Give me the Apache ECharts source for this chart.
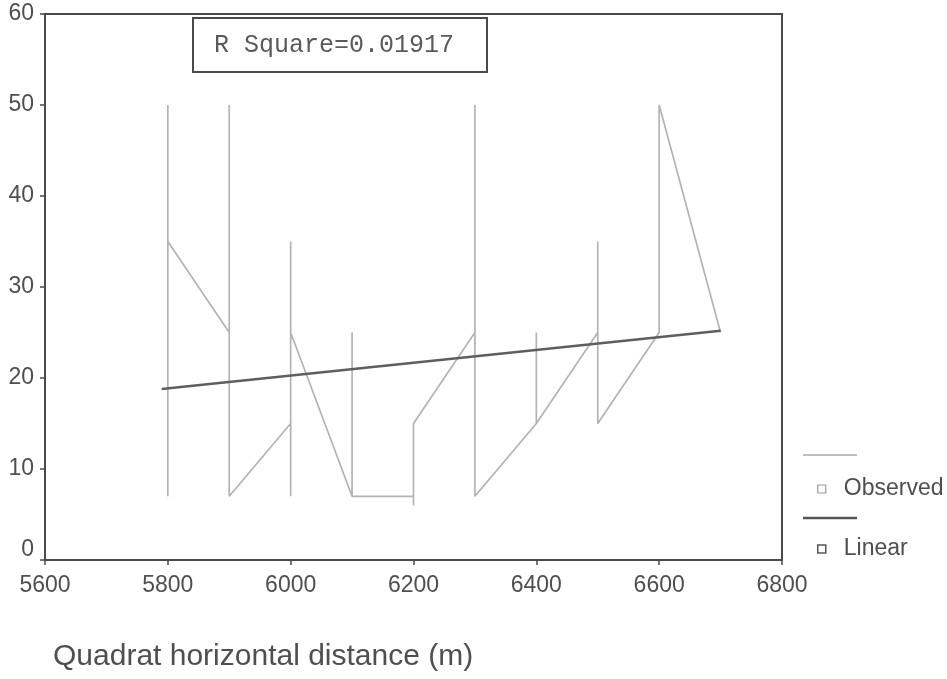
<!DOCTYPE html>
<html>
<head>
<meta charset="utf-8">
<script src="https://cdn.jsdelivr.net/npm/echarts@6/dist/echarts.min.js"></script>
<style>
html,body{margin:0;padding:0;background:#fff;}
#chart{width:947px;height:679px;}
</style>
</head>
<body>
<div id="chart"></div>
<script>
// Observed data (in drawing order)
var obsX = [5800,5800,5800,5900,5900,5900,6000,6000,6000,6000,6100,6100,6100,6200,6200,6200,6300,6300,6300,6400,6400,6400,6500,6500,6500,6600,6600,6700];
var obsY = [7,50,35,25,50,7,15,35,7,25,7,25,7,7,6,15,25,50,7,15,25,15,25,35,15,25,50,25];
// Linear fit
var linX = [5790,6700];
var linY = [18.8,25.2];
var xTicks = {min:5600,max:6800,interval:200};
var yTicks = {min:0,max:60,interval:10};
var rSquareText = 'R Square=0.01917';
var xTitle = 'Quadrat horizontal distance (m)';
var seriesNames = ['Observed','Linear'];

function pairs(xs, ys){ return xs.map(function(x,i){return [x, ys[i]];}); }

var chart = echarts.init(document.getElementById('chart'), null, {renderer:'canvas'});
var axisCol = '#4a4a4a';
var txtCol = '#4f4f4f';
chart.setOption({
  animation:false,
  backgroundColor:'#ffffff',
  grid:{left:45,right:165,top:14,bottom:119,show:true,borderColor:axisCol,borderWidth:2,backgroundColor:'transparent'},
  title:{text:xTitle,left:48,top:637,textStyle:{fontFamily:'Liberation Sans',fontSize:30,fontWeight:'normal',color:txtCol}},
  legend:{
    orient:'vertical',left:812,top:472,itemGap:36,
    itemWidth:8,itemHeight:8,icon:'rect',
    data:[
      {name:seriesNames[0],itemStyle:{color:'#ffffff',borderColor:'#9a9a9a',borderWidth:1.2}},
      {name:seriesNames[1],itemStyle:{color:'#ffffff',borderColor:'#555555',borderWidth:1.5}}
    ],
    textStyle:{fontFamily:'Liberation Sans',fontSize:23,color:txtCol,padding:[0,0,0,13],lineHeight:24}
  },
  xAxis:{type:'value',min:xTicks.min,max:xTicks.max,interval:xTicks.interval,
    axisLine:{show:true,lineStyle:{color:axisCol,width:2}},
    axisTick:{show:true,inside:false,length:5,lineStyle:{color:axisCol,width:1.5}},
    splitLine:{show:false},
    axisLabel:{margin:14,fontFamily:'Liberation Sans',fontSize:23,color:txtCol,formatter:function(v){return String(v);}}
  },
  yAxis:{type:'value',min:yTicks.min,max:yTicks.max,interval:yTicks.interval,
    axisLine:{show:true,lineStyle:{color:axisCol,width:2}},
    axisTick:{show:true,inside:false,length:5,lineStyle:{color:axisCol,width:1.5}},
    splitLine:{show:false},
    axisLabel:{margin:11,fontFamily:'Liberation Sans',fontSize:23,color:txtCol,
      formatter:function(v){return v===0 ? '{z|0}' : String(v);},
      rich:{z:{fontFamily:'Liberation Sans',fontSize:23,color:txtCol,padding:[0,0,20,0]}}
    }
  },
  series:[
    {name:seriesNames[0],type:'line',data:pairs(obsX,obsY),showSymbol:false,symbol:'none',
      lineStyle:{color:'#b3b3b3',width:1.7},itemStyle:{color:'#b3b3b3'},z:2},
    {name:seriesNames[1],type:'line',data:pairs(linX,linY),showSymbol:false,symbol:'none',
      lineStyle:{color:'#5e5e5e',width:2.6},itemStyle:{color:'#5e5e5e'},z:3}
  ],
  graphic:[
    {type:'rect',shape:{x:193,y:18,width:294,height:54},style:{fill:'#ffffff',stroke:axisCol,lineWidth:2},z:10},
    {type:'text',x:214,y:45,style:{text:rSquareText,fontFamily:'Liberation Mono',fontSize:25,fill:'#5a5a5a',textVerticalAlign:'middle',verticalAlign:'middle'},z:11},
    {type:'line',shape:{x1:803,y1:455,x2:857,y2:455},style:{stroke:'#a8a8a8',lineWidth:1.6},z:10},
    {type:'line',shape:{x1:803,y1:518,x2:857,y2:518},style:{stroke:'#555555',lineWidth:2.4},z:10}
  ]
});
</script>
</body>
</html>
